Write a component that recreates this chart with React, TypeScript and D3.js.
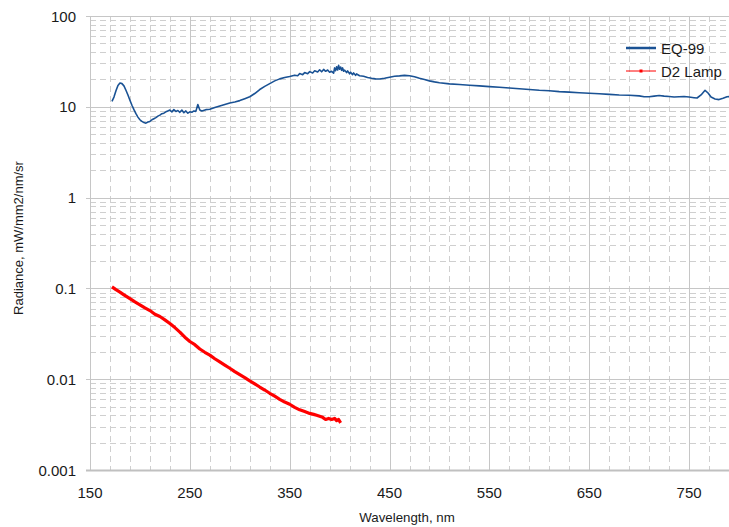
import React from "react";
import * as d3 from "d3";

// EQ-99 radiance spectrum (wavelength nm, mW/mm2/nm/sr)
const eqWavelength = [
  172, 174, 176, 178, 180, 182, 184, 186, 188, 190, 192, 194, 196, 198, 200, 202, 204, 206, 208, 210,
  212, 214, 216, 218, 220, 222, 224, 226, 228, 230, 232, 234, 236, 238, 240, 242, 244, 246, 248, 250,
  252, 254, 256, 258, 260, 262, 266, 270, 275, 280, 285, 290, 295, 300, 305, 310, 315, 320, 325, 330,
  335, 340, 345, 350, 355, 358, 360, 363, 365, 368, 370, 373, 375, 378, 380, 382, 384, 386, 388, 390,
  392, 394, 395, 396, 397, 398, 399, 400, 401, 402, 403, 404, 405, 407, 408, 410, 411, 413, 414, 416,
  417, 420, 424, 428, 432, 436, 440, 445, 450, 455, 460, 465, 470, 475, 480, 485, 490,
  495, 500, 510, 520, 530, 540, 550, 560, 570, 580, 590, 600, 610, 620, 630, 640, 650, 660, 670, 680,
  690, 700, 705, 710, 715, 720, 725, 730, 735, 740, 745, 750, 755, 758, 762, 766, 769, 772, 776, 780,
  784, 788, 792,
];
const eqRadiance = [
  11.5, 12.8, 15.0, 17.2, 18.3, 18.0, 17.0, 15.2, 13.5, 11.8, 10.4, 9.3, 8.4, 7.7, 7.2, 6.9, 6.7, 6.6, 6.8, 6.9,
  7.2, 7.4, 7.6, 7.9, 8.1, 8.4, 8.5, 8.8, 9.0, 9.2, 8.8, 9.3, 8.9, 9.1, 8.7, 9.2, 8.6, 9.0, 8.5, 8.8,
  8.7, 9.0, 8.9, 10.6, 9.2, 9.0, 9.3, 9.4, 9.8, 10.2, 10.6, 11.0, 11.3, 11.7, 12.3, 12.9, 14.0, 15.5, 16.8, 18.0,
  19.3, 20.3, 21.0, 21.6, 22.3, 22.0, 23.2, 22.6, 23.8, 23.1, 24.4, 23.6, 24.9, 24.2, 25.6, 24.3, 25.8, 24.6, 25.4, 24.0,
  24.6, 23.5, 26.8, 25.0, 27.6, 25.4, 28.6, 25.9, 27.4, 25.2, 26.8, 24.6, 25.3, 23.8, 24.9, 23.1, 24.0, 22.6, 23.6, 22.2,
  23.0, 22.0, 21.7, 21.0, 20.6, 20.3, 20.2, 20.6, 21.2, 21.7, 21.9, 22.2, 22.0, 21.4, 20.6, 20.0, 19.3,
  18.8, 18.4, 17.9, 17.6, 17.3, 17.0, 16.7, 16.4, 16.1, 15.8, 15.5, 15.2, 15.0, 14.7, 14.5, 14.3, 14.1, 13.9, 13.7, 13.5,
  13.4, 13.2, 12.9, 12.9, 13.1, 13.3, 13.1, 13.0, 12.8, 12.9, 13.0, 12.8, 12.6, 12.5, 13.5, 15.2, 14.2, 12.8, 12.2, 12.0,
  12.4, 12.9, 13.0,
];

// D2 lamp radiance spectrum
const d2Wavelength = [
  172, 176, 180, 184, 190, 195, 200, 205, 210, 215, 220, 225, 230, 235, 240, 245, 250, 255, 260, 265,
  270, 275, 280, 285, 290, 295, 300, 305, 310, 315, 320, 325, 330, 335, 340, 345, 350, 355, 360, 365,
  370, 374, 377, 380, 383, 386, 389, 392, 395, 397, 399, 401,
];
const d2Radiance = [
  0.104, 0.097, 0.091, 0.085, 0.077, 0.071, 0.066, 0.061, 0.057, 0.052, 0.049, 0.045, 0.041, 0.037, 0.033, 0.029, 0.026, 0.024, 0.0215, 0.0198,
  0.0184, 0.0168, 0.0155, 0.0143, 0.0132, 0.0121, 0.0112, 0.0104, 0.0096, 0.0089, 0.0082, 0.0076, 0.007, 0.0065, 0.006, 0.0056, 0.0053, 0.0049, 0.0046, 0.0044,
  0.0042, 0.0041, 0.004, 0.0039, 0.0038, 0.0036, 0.0037, 0.0036, 0.0037, 0.0035, 0.0036, 0.0033,
];

const xTickValues = [150, 250, 350, 450, 550, 650, 750];
const yTickValues = [0.001, 0.01, 0.1, 1, 10, 100];
const yTickLabels = ["0.001", "0.01", "0.1", "1", "10", "100"];
const seriesNames = ["EQ-99", "D2 Lamp"];

const W = 729;
const H = 527;
const left = 90;
const top = 16;
const bottom = 470;
const right = 739;

const FONT = "'Liberation Sans', Arial, sans-serif";

export default function App() {
  const x = d3.scaleLinear().domain([150, 800]).range([left, right]);
  const y = d3.scaleLog().domain([0.001, 100]).range([bottom, top]);

  const minorX = d3.range(170, 800, 20).filter((v) => (v - 150) % 100 !== 0);
  const minorY: number[] = [];
  for (let e = -3; e < 2; e++) {
    for (let m = 2; m <= 9; m++) minorY.push(m * Math.pow(10, e));
  }

  const line = d3
    .line<[number, number]>()
    .x((d) => x(d[0]))
    .y((d) => y(d[1]));

  const eqData: [number, number][] = eqWavelength.map((w, i) => [w, eqRadiance[i]]);
  const d2Data: [number, number][] = d2Wavelength.map((w, i) => [w, d2Radiance[i]]);

  const gridColor = "#c6c6c6";
  const minorColor = "#cfcfcf";

  return (
    <svg
      width={W}
      height={H}
      style={{ position: "absolute", left: 0, top: 0, background: "#fff" }}
      fontFamily={FONT}
    >
      <defs>
        <clipPath id="plot">
          <rect x={left} y={top - 2} width={W - left} height={bottom - top + 4} />
        </clipPath>
      </defs>

      {/* minor grid */}
      <g stroke={minorColor} strokeWidth={1} strokeDasharray="6,4">
        {minorX.map((v) => (
          <line key={"mx" + v} x1={Math.round(x(v)) + 0.5} x2={Math.round(x(v)) + 0.5} y1={top} y2={bottom} />
        ))}
        {minorY.map((v) => (
          <line key={"my" + v} x1={left} x2={W} y1={Math.round(y(v)) + 0.5} y2={Math.round(y(v)) + 0.5} />
        ))}
      </g>

      {/* major grid */}
      <g stroke={gridColor} strokeWidth={1}>
        {xTickValues.map((v) => (
          <line key={"gx" + v} x1={Math.round(x(v)) + 0.5} x2={Math.round(x(v)) + 0.5} y1={top} y2={bottom} />
        ))}
        {yTickValues.map((v) => (
          <line key={"gy" + v} x1={left - 4} x2={W} y1={Math.round(y(v)) + 0.5} y2={Math.round(y(v)) + 0.5} />
        ))}
      </g>
      <line x1={left - 4} x2={W} y1={bottom + 0.5} y2={bottom + 0.5} stroke="#c0c0c0" strokeWidth={2} />

      {/* series */}
      <g clipPath="url(#plot)" fill="none" strokeLinejoin="round">
        <path d={line(eqData) ?? ""} stroke="#1a5294" strokeWidth={1.6} />
        <path d={line(d2Data) ?? ""} stroke="#ff0000" strokeWidth={3.2} />
      </g>

      {/* y tick labels */}
      <g fontSize={15} fill="#1a1a1a" textAnchor="end">
        {yTickValues.map((v, i) => (
          <text key={"yl" + v} x={76} y={y(v) + 5.5}>
            {yTickLabels[i]}
          </text>
        ))}
      </g>

      {/* x tick labels */}
      <g fontSize={15} fill="#1a1a1a" textAnchor="middle">
        {xTickValues.map((v) => (
          <text key={"xl" + v} x={x(v)} y={498}>
            {v}
          </text>
        ))}
      </g>

      {/* axis titles */}
      <text x={407} y={522} fontSize={13.3} textAnchor="middle" fill="#1a1a1a">
        Wavelength, nm
      </text>
      <text
        transform="translate(23,238) rotate(-90)"
        fontSize={13}
        textAnchor="middle"
        fill="#1a1a1a"
      >
        Radiance, mW/mm2/nm/sr
      </text>

      {/* legend */}
      <g>
        <line x1={626} x2={656} y1={48} y2={48} stroke="#1a5294" strokeWidth={2.5} />
        <text x={661} y={53.5} fontSize={15} fill="#1a1a1a">
          {seriesNames[0]}
        </text>
        <line x1={626} x2={656} y1={71} y2={71} stroke="#ff0000" strokeWidth={1} />
        <rect x={639.5} y={69.5} width={3} height={3} fill="#ff0000" />
        <text x={661} y={76.5} fontSize={15} fill="#1a1a1a">
          {seriesNames[1]}
        </text>
      </g>
    </svg>
  );
}
